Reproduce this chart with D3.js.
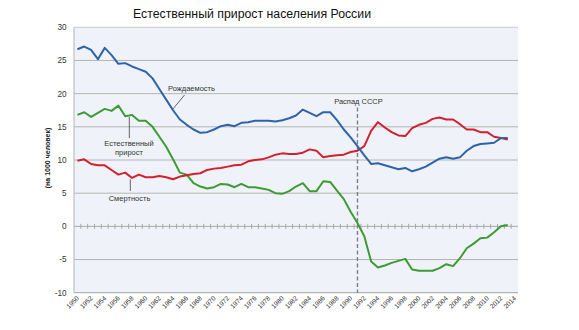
<!DOCTYPE html>
<html>
<head>
<meta charset="utf-8">
<script src="https://cdn.jsdelivr.net/npm/d3@7"></script>
<style>
  html, body { margin: 0; padding: 0; background: #fff; }
  svg { display: block; font-family: "Liberation Sans", Arial, sans-serif; }
</style>
</head>
<body>
<svg id="chart" width="579" height="330"></svg>
<script>
// Categories: every year on the axis (data runs to 2013)
const years = [1950,1951,1952,1953,1954,1955,1956,1957,1958,1959,
               1960,1961,1962,1963,1964,1965,1966,1967,1968,1969,
               1970,1971,1972,1973,1974,1975,1976,1977,1978,1979,
               1980,1981,1982,1983,1984,1985,1986,1987,1988,1989,
               1990,1991,1992,1993,1994,1995,1996,1997,1998,1999,
               2000,2001,2002,2003,2004,2005,2006,2007,2008,2009,
               2010,2011,2012,2013,2014];

// Per 1000 people
const birthRate = [26.7,27.1,26.6,25.2,26.9,25.8,24.5,24.6,24.1,23.7,
                   23.3,22.3,20.7,19.1,17.5,16.1,15.3,14.6,14.1,14.2,
                   14.6,15.1,15.3,15.1,15.6,15.7,15.9,15.9,15.9,15.8,
                   16.0,16.3,16.7,17.6,17.1,16.6,17.2,17.2,16.0,14.6,
                   13.4,12.1,10.7,9.4,9.5,9.2,8.9,8.6,8.8,8.3,
                   8.6,9.0,9.6,10.2,10.4,10.2,10.4,11.4,12.1,12.4,
                   12.5,12.6,13.3,13.3];

const deathRate = [9.9,10.1,9.4,9.2,9.2,8.5,7.8,8.1,7.3,7.8,
                   7.4,7.4,7.6,7.4,7.1,7.5,7.7,7.9,8.0,8.5,
                   8.7,8.8,9.0,9.2,9.3,9.8,10.0,10.1,10.4,10.8,
                   11.0,10.9,10.9,11.1,11.6,11.4,10.4,10.6,10.7,10.8,
                   11.2,11.4,12.1,14.4,15.7,14.9,14.2,13.7,13.6,14.8,
                   15.3,15.6,16.2,16.4,16.1,16.1,15.4,14.6,14.6,14.2,
                   14.2,13.5,13.3,13.1];

const naturalIncrease = [16.8,17.2,16.5,17.1,17.7,17.4,18.2,16.6,16.8,15.9,
                         15.9,15.0,13.5,12.0,10.1,8.1,7.8,6.5,6.0,5.7,
                         5.9,6.4,6.3,5.9,6.4,5.9,5.9,5.7,5.5,5.0,
                         4.9,5.3,6.0,6.5,5.3,5.3,6.8,6.7,5.4,4.1,
                         2.2,0.5,-1.5,-5.3,-6.2,-5.9,-5.5,-5.2,-4.9,-6.5,
                         -6.7,-6.7,-6.7,-6.3,-5.7,-6.0,-4.8,-3.3,-2.6,-1.8,
                         -1.7,-0.9,0.0,0.2];

const yTicks = [30,25,20,15,10,5,0,-5,-10];
const xLabelYears = years.filter((y, i) => i % 2 === 0);
const collapseYear = 1991;

const svg = d3.select("#chart");
const plot = { left: 74, right: 518, top: 27.3, bottom: 292.7 };

const x = d3.scaleBand().domain(years).range([plot.left, plot.right]).padding(0);
const y = d3.scaleLinear().domain([-10, 30]).range([plot.bottom, plot.top]);
const cx = yr => x(yr) + x.bandwidth() / 2;

// Title
svg.append("text")
  .attr("x", 252).attr("y", 17.5)
  .attr("text-anchor", "middle")
  .attr("font-size", 12.3)
  .attr("fill", "#111")
  .text("Естественный прирост населения России");

// Plot background
svg.append("rect")
  .attr("x", plot.left).attr("y", plot.top)
  .attr("width", plot.right - plot.left).attr("height", plot.bottom - plot.top)
  .attr("fill", "#eff3f9");

// Horizontal gridlines
svg.append("g")
  .selectAll("line")
  .data(yTicks.filter(t => t !== 0))
  .join("line")
  .attr("x1", plot.left).attr("x2", plot.right)
  .attr("y1", d => y(d)).attr("y2", d => y(d))
  .attr("stroke", d => d === 30 ? "#c8c8c8" : "#b4b4b4")
  .attr("stroke-width", d => d === -10 ? 1.3 : 1);

// Left axis line
svg.append("line")
  .attr("x1", plot.left).attr("x2", plot.left)
  .attr("y1", plot.top).attr("y2", plot.bottom)
  .attr("stroke", "#b4b4b4");

// Y tick labels
svg.append("g")
  .selectAll("text")
  .data(yTicks)
  .join("text")
  .attr("x", 66.5).attr("y", d => y(d))
  .attr("dy", "0.35em")
  .attr("text-anchor", "end")
  .attr("font-size", 8.2)
  .attr("fill", "#333")
  .text(d => d);

// Y axis title
svg.append("text")
  .attr("transform", `translate(50,${(plot.top + plot.bottom) / 2 - 2}) rotate(-90)`)
  .attr("text-anchor", "middle")
  .attr("font-size", 7)
  .attr("font-weight", "bold")
  .attr("fill", "#222")
  .text("(на 1000 человек)");

// Category axis along zero, with crossing tick marks between years
const zeroY = y(0);
svg.append("line")
  .attr("x1", plot.left).attr("x2", plot.right)
  .attr("y1", zeroY).attr("y2", zeroY)
  .attr("stroke", "#a8a8a8");
svg.append("g")
  .selectAll("line")
  .data(years.slice(1))
  .join("line")
  .attr("x1", d => x(d)).attr("x2", d => x(d))
  .attr("y1", zeroY - 2.5).attr("y2", zeroY + 2.5)
  .attr("stroke", "#a8a8a8");

// X tick labels, rotated
svg.append("g")
  .selectAll("text")
  .data(xLabelYears)
  .join("text")
  .attr("transform", d => `translate(${cx(d) + 2},${plot.bottom + 6}) rotate(-45)`)
  .attr("text-anchor", "end")
  .attr("font-size", 6.6)
  .attr("fill", "#333")
  .text(d => d);

// USSR collapse marker
svg.append("line")
  .attr("x1", cx(collapseYear)).attr("x2", cx(collapseYear))
  .attr("y1", 107.5).attr("y2", plot.bottom)
  .attr("stroke", "#808080")
  .attr("stroke-width", 1.4)
  .attr("stroke-dasharray", "4,2.5");
svg.append("text")
  .attr("x", cx(collapseYear) + 1).attr("y", 103.5)
  .attr("text-anchor", "middle")
  .attr("font-size", 7.5)
  .attr("fill", "#333")
  .text("Распад СССР");

// Series lines
const line = d3.line()
  .x((d, i) => cx(years[i]))
  .y(d => y(d));

const series = [
  { values: naturalIncrease, color: "#3d9b35" },
  { values: deathRate, color: "#d3202e" },
  { values: birthRate, color: "#2f63a9" }
];
svg.append("g")
  .selectAll("path")
  .data(series)
  .join("path")
  .attr("d", d => line(d.values))
  .attr("fill", "none")
  .attr("stroke", d => d.color)
  .attr("stroke-width", 2)
  .attr("stroke-linejoin", "round");

// Series annotations with leader lines
const notes = [
  { lines: ["Рождаемость"], tx: 191.5, ty: 90.5, lx1: 184.5, ly1: 95, lx2: 172.7, ly2: 109.3 },
  { lines: ["Естественный", "прирост"], tx: 129, ty: 146, lx1: 129.3, ly1: 116.7, lx2: 129.3, ly2: 138 },
  { lines: ["Смертность"], tx: 129.5, ty: 201, lx1: 130.3, ly1: 179.3, lx2: 130.3, ly2: 191 }
];
const noteG = svg.append("g");
notes.forEach(n => {
  noteG.append("line")
    .attr("x1", n.lx1).attr("y1", n.ly1)
    .attr("x2", n.lx2).attr("y2", n.ly2)
    .attr("stroke", "#555").attr("stroke-width", 0.9);
  const t = noteG.append("text")
    .attr("x", n.tx).attr("y", n.ty)
    .attr("text-anchor", "middle")
    .attr("font-size", 7.5)
    .attr("fill", "#333");
  n.lines.forEach((s, k) => {
    t.append("tspan").attr("x", n.tx).attr("dy", k === 0 ? 0 : 9).text(s);
  });
});
</script>
</body>
</html>
